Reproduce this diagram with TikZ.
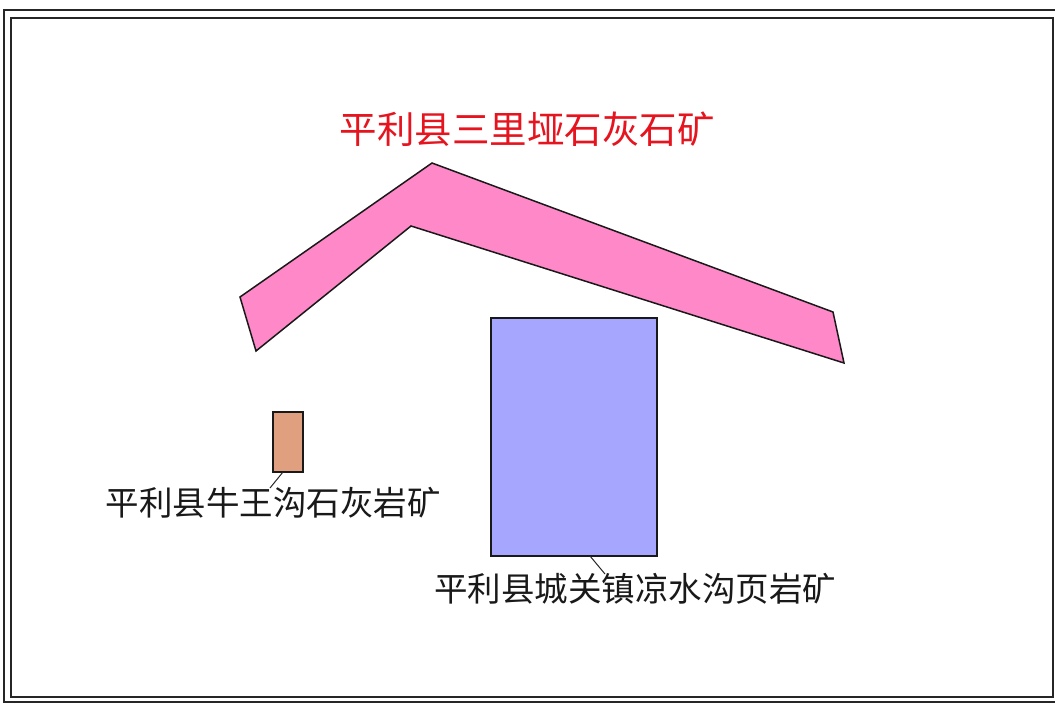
\documentclass[tikz,border=0pt]{standalone}
\usepackage{fontspec}
\newfontfamily\cjk{Noto Sans CJK SC}
\definecolor{roofpink}{RGB}{255,136,200}
\definecolor{minebrown}{RGB}{224,160,128}
\definecolor{mineblue}{RGB}{166,166,255}
\definecolor{titlered}{RGB}{230,20,30}
\tikzset{
  frameline/.style={draw=black!85, line width=2pt},
  area/.style={draw=black!90, line width=1.5pt, line join=miter},
  leader/.style={draw=black!85, line width=1pt},
  lbl/.style={font=\cjk\fontsize{33.5}{36}\selectfont, inner sep=0pt, text=black!90},
}
\begin{document}
\begin{tikzpicture}[x=1pt,y=-1pt]
\useasboundingbox (0,0) rectangle (1055,704);
\fill[white] (0,0) rectangle (1055,704);
% frame
\draw[frameline] (4,10) rectangle (1062,702);
\draw[frameline] (11,18) rectangle (1053,697);
% pink roof-shaped area
\draw[area, fill=roofpink] (240,297) -- (432,163) -- (833,312) -- (844,363) -- (411,226) -- (256,351) -- cycle;
\node[font=\cjk\fontsize{37.5}{40}\selectfont, text=titlered, inner sep=0pt] (title) at (527,129) {平利县三里垭石灰石矿};
% small brown mine
\node[area, fill=minebrown, minimum width=30pt, minimum height=60pt, inner sep=0pt] (brown) at (288,442) {};
\node[lbl] (brownlbl) at (273,503) {平利县牛王沟石灰岩矿};
\coordinate (brownend) at (270,488);
\draw[leader] (283,472) -- (brownend);
% blue mine
\node[area, fill=mineblue, minimum width=166pt, minimum height=238pt, inner sep=0pt] (blue) at (574,437) {};
\node[lbl] (bluelbl) at (635,589) {平利县城关镇凉水沟页岩矿};
\coordinate (blueend) at (605,574);
\draw[leader] (590,556) -- (blueend);
\end{tikzpicture}
\end{document}
